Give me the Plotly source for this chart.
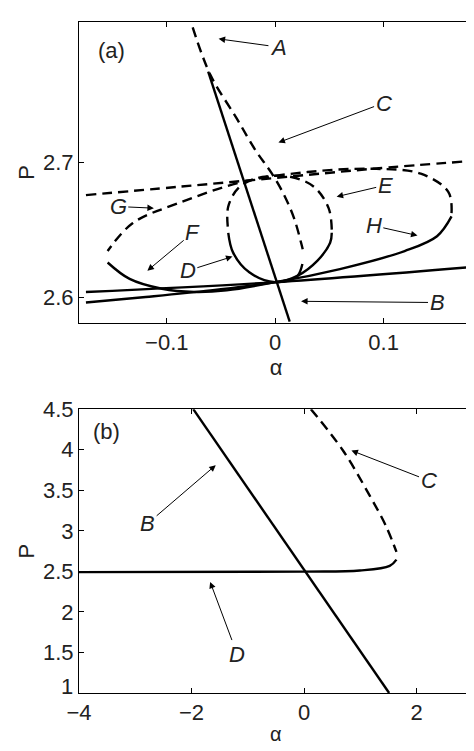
import plotly.graph_objects as go
from plotly.subplots import make_subplots

# ---- panel (a) curves ----
c_dash_x = [-0.0761, -0.0597, -0.0358, -0.0179, -0.0030, 0.0090, 0.0179, 0.0239, 0.0254]
c_dash_y = [2.8000, 2.7646, 2.7329, 2.7085, 2.6915, 2.6744, 2.6573, 2.6402, 2.6354]
c_solid_x = [0.0251, 0.0209, 0.0119, 0.0]
c_solid_y = [2.6244, 2.6159, 2.6122, 2.6110]

b_line_x = [-0.0618, 0.0134]
b_line_y = [2.7671, 2.5817]

hdash_x = [-0.1746, -0.0896, 0.0, 0.0896, 0.1776]
hdash_y = [2.6756, 2.6817, 2.6883, 2.6951, 2.7007]

hsolid_x = [-0.1746, 0.0, 0.1776]
hsolid_y = [2.6037, 2.6110, 2.6220]

h_solid_x = [-0.1746, -0.1194, -0.0597, 0.0, 0.0597, 0.1194, 0.1493, 0.1627]
h_solid_y = [2.5959, 2.6000, 2.6049, 2.6110, 2.6207, 2.6341, 2.6451, 2.6598]
g_dash_x = [0.1627, 0.1597, 0.1343, 0.0896, 0.0299, -0.0299, -0.0896, -0.1313, -0.1546]
g_dash_y = [2.6622, 2.6780, 2.6915, 2.6951, 2.6927, 2.6854, 2.6695, 2.6549, 2.6341]
f_solid_x = [-0.1546, -0.1343, -0.1045, -0.0746, -0.0448, 0.0]
f_solid_y = [2.6256, 2.6134, 2.6061, 2.6037, 2.6049, 2.6110]

d_solid_x = [-0.0433, -0.0388, -0.0239, 0.0, 0.0209, 0.0388, 0.0507, 0.0522]
d_solid_y = [2.6476, 2.6329, 2.6183, 2.6110, 2.6159, 2.6268, 2.6402, 2.6476]
e_dash_x = [0.0522, 0.0493, 0.0358, 0.0149, -0.0119, -0.0328, -0.0433, -0.0433]
e_dash_y = [2.6500, 2.6659, 2.6817, 2.6890, 2.6890, 2.6817, 2.6671, 2.6488]

# ---- panel (b) curves ----
bb_x = [-1.97, 1.51]
bb_y = [4.5, 1.0]
cb_x = [0.12, 0.69, 1.16, 1.46, 1.64]
cb_y = [4.5, 3.99, 3.44, 3.05, 2.74]
db_x = [1.64, 1.52, 0.99, 0.0, -4.0]
db_y = [2.645, 2.567, 2.51, 2.497, 2.49]

# labels: text, label x, label y, arrow head x, arrow head y
labels_a = [
    ("A", 0.003, 2.7854, -0.0522, 2.7915),
    ("C", 0.100, 2.7439, 0.003, 2.7146),
    ("E", 0.1015, 2.6829, 0.0567, 2.6744),
    ("G", -0.1448, 2.6671, -0.1119, 2.6659),
    ("F", -0.0761, 2.6476, -0.1179, 2.6195),
    ("H", 0.091, 2.6529, 0.1313, 2.6456),
    ("D", -0.0806, 2.6195, -0.0394, 2.6300),
    ("B", 0.1493, 2.5959, 0.0239, 2.5968),
]
labels_b = [
    ("C", 2.21, 3.62, 0.84, 3.99),
    ("B", -2.78, 3.09, -1.57, 3.81),
    ("D", -1.19, 1.48, -1.67, 2.37),
]

fig = make_subplots(rows=2, cols=1)

DASH = "10px,6px"


def add_line(x, y, row, dash="solid"):
    fig.add_trace(go.Scatter(x=x, y=y, mode="lines", line_shape="spline",
                             line=dict(color="black", width=2.4, dash=dash),
                             showlegend=False, hoverinfo="skip"), row=row, col=1)


add_line(c_dash_x, c_dash_y, 1, DASH)
add_line(c_solid_x, c_solid_y, 1)
add_line(b_line_x, b_line_y, 1)
add_line(hdash_x, hdash_y, 1, DASH)
add_line(hsolid_x, hsolid_y, 1)
add_line(h_solid_x, h_solid_y, 1)
add_line(g_dash_x, g_dash_y, 1, DASH)
add_line(f_solid_x, f_solid_y, 1)
add_line(d_solid_x, d_solid_y, 1)
add_line(e_dash_x, e_dash_y, 1, DASH)

add_line(bb_x, bb_y, 2)
add_line(cb_x, cb_y, 2, DASH)
add_line(db_x, db_y, 2)

font = dict(family="Liberation Sans, Arial, sans-serif", size=22, color="#222")

for i, labels in ((1, labels_a), (2, labels_b)):
    xr = "x" if i == 1 else "x2"
    yr = "y" if i == 1 else "y2"
    for t, lx, ly, hx, hy in labels:
        fig.add_annotation(x=hx, y=hy, ax=lx, ay=ly, xref=xr, yref=yr, axref=xr, ayref=yr,
                           text="<i>%s</i>" % t, showarrow=True, arrowhead=2, arrowsize=1.3,
                           arrowwidth=1, arrowcolor="black", font=font, standoff=0)

fig.add_annotation(x=-0.1507, y=2.7829, xref="x", yref="y", text="(a)", showarrow=False, font=font)
fig.add_annotation(x=-3.52, y=4.23, xref="x2", yref="y2", text="(b)", showarrow=False, font=font)

axis_style = dict(showgrid=False, zeroline=False, showline=True, linecolor="black", linewidth=1,
                  mirror="ticks", ticks="inside", ticklen=5, tickcolor="black",
                  tickfont=font, title_font=font, title_standoff=2)

fig.update_xaxes(**axis_style)
fig.update_yaxes(**axis_style)
fig.update_xaxes(range=[-0.181, 0.1825], tickvals=[-0.1, 0, 0.1], ticktext=["\u22120.1", "0", "0.1"],
                 title_text="\u03b1", domain=[0, 1], row=1, col=1)
fig.update_yaxes(range=[2.581, 2.804], tickvals=[2.6, 2.7], title_text="P",
                 domain=[0.552, 1], row=1, col=1)
fig.update_xaxes(range=[-4, 3], tickvals=[-4, -2, 0, 2], ticktext=["\u22124", "\u22122", "0", "2"],
                 domain=[0, 1], row=2, col=1)
fig.update_yaxes(range=[1, 4.5], tickvals=[1.5, 2, 2.5, 3, 3.5, 4, 4.5],
                 ticktext=["1.5", "2", "2.5", "3", "3.5", "4", "4.5"], title_text="P",
                 domain=[0, 0.423], row=2, col=1)
# y=1 label set slightly higher so it does not collide with the x label -4
fig.add_annotation(x=0, y=1, xref="paper", yref="y2", text="1", showarrow=False, font=font,
                   xanchor="right", yanchor="bottom", xshift=-4, yshift=-8)
# bottom x title as annotation so it stays inside the page
fig.add_annotation(x=0.5, y=0, xref="x2 domain", yref="paper", text="\u03b1", showarrow=False,
                   font=dict(family=font["family"], size=20, color="#222"),
                   yanchor="top", yshift=-28)

fig.update_layout(width=474, height=751, margin=dict(l=71, r=9, t=2, b=66),
                  plot_bgcolor="white", paper_bgcolor="white")

fig.write_html("out.html")
